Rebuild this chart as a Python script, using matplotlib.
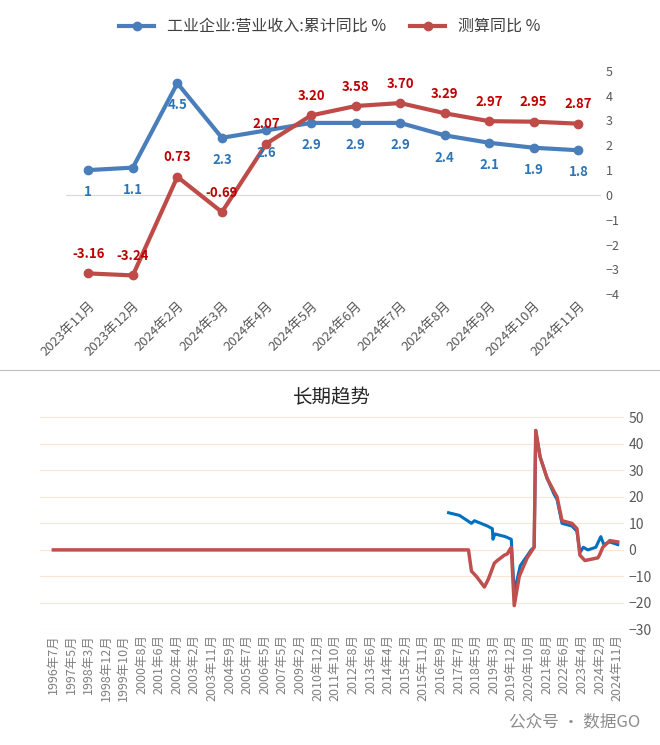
import matplotlib
matplotlib.use("Agg")
import matplotlib.pyplot as plt
from matplotlib.lines import Line2D

plt.rcParams['font.family'] = ['Noto Sans CJK SC', 'DejaVu Sans']

months = ["2023年11月","2023年12月","2024年2月","2024年3月","2024年4月","2024年5月",
          "2024年6月","2024年7月","2024年8月","2024年9月","2024年10月","2024年11月"]
rev_yoy = [1, 1.1, 4.5, 2.3, 2.6, 2.9, 2.9, 2.9, 2.4, 2.1, 1.9, 1.8]
calc_yoy = [-3.16, -3.24, 0.73, -0.69, 2.07, 3.20, 3.58, 3.70, 3.29, 2.97, 2.95, 2.87]
rev_lbl = ["1","1.1","4.5","2.3","2.6","2.9","2.9","2.9","2.4","2.1","1.9","1.8"]
calc_lbl = ["-3.16","-3.24","0.73","-0.69","2.07","3.20","3.58","3.70","3.29","2.97","2.95","2.87"]

# long-term series: (decimal year, value) breakpoints
red_t = [1996.54, 2017.4, 2017.55, 2017.8, 2018.2, 2018.4, 2018.7, 2018.85, 2019.2, 2019.35, 2019.55,
         2019.7, 2019.95, 2020.35, 2020.7, 2020.78, 2021.0, 2021.35, 2021.7, 2021.85, 2022.1, 2022.6,
         2022.85, 2023.0, 2023.25, 2023.9, 2023.98, 2024.15, 2024.5, 2024.9]
red_v = [0, 0, -8, -10, -14, -11, -5, -4, -2, -1.5, 1, -21, -10, -3, 1, 45, 35, 27, 22, 20, 11, 10,
         8, -2, -4, -3, -2, 1, 3.5, 3]
blue_t = [2016.4, 2016.95, 2017.55, 2017.7, 2018.35, 2018.6, 2018.63, 2018.73, 2019.25, 2019.55,
          2019.7, 2020.0, 2020.55, 2020.7, 2020.78, 2021.0, 2021.35, 2021.7, 2021.85, 2022.1, 2022.6,
          2022.85, 2023.0, 2023.17, 2023.4, 2023.8, 2024.05, 2024.2, 2024.5, 2024.9]
blue_v = [14, 13, 10, 11, 9, 8, 4, 6, 5, 4, -16, -6, 0, 1, 45, 35, 27, 21, 19, 10, 9,
          7, -1, 1, 0, 1, 5, 2, 3, 2]
lt_labels = ["1996年7月","1997年5月","1998年3月","1998年12月","1999年10月","2000年8月","2001年6月",
             "2002年4月","2003年2月","2003年11月","2004年9月","2005年7月","2006年5月","2007年5月",
             "2009年2月","2010年12月","2011年10月","2012年8月","2013年6月","2014年4月","2015年2月",
             "2015年11月","2016年9月","2017年7月","2018年5月","2019年3月","2019年12月","2020年10月",
             "2021年8月","2022年6月","2023年4月","2024年2月","2024年11月"]

fig = plt.figure(figsize=(6.6, 7.45), dpi=100)
blue1, red1 = "#4A7EBB", "#BE4B48"

# ---- top panel ----
ax = fig.add_axes([0.10, 0.605, 0.81, 0.30])
x = list(range(len(months)))
ax.plot(x, rev_yoy, color=blue1, lw=3, marker='o', ms=6)
ax.plot(x, calc_yoy, color=red1, lw=3, marker='o', ms=6)
for i in x:
    ax.annotate(rev_lbl[i], (i, rev_yoy[i]), xytext=(0, -16), textcoords='offset points',
                ha='center', va='center', color="#2E75B6", fontsize=9.5, fontweight='bold')
    ax.annotate(calc_lbl[i], (i, calc_yoy[i]), xytext=(0, 14), textcoords='offset points',
                ha='center', va='center', color="#C00000", fontsize=9.5, fontweight='bold')
ax.set_ylim(-4, 5)
ax.set_xlim(-0.5, len(months) - 0.5)
ax.yaxis.tick_right()
ax.set_yticks(range(-4, 6))
ax.set_xticks(x)
ax.set_xticklabels(months, rotation=45, ha='right', rotation_mode='anchor', fontsize=9.5, color="#595959")
ax.tick_params(axis='y', length=0, labelsize=9, colors="#595959")
ax.tick_params(axis='x', length=0)
for s in ax.spines.values():
    s.set_visible(False)
ax.axhline(0, color="#D9D9D9", lw=0.8, zorder=0)
handles = [Line2D([], [], color=blue1, lw=3, marker='o', ms=6),
           Line2D([], [], color=red1, lw=3, marker='o', ms=6)]
fig.legend(handles, ["工业企业:营业收入:累计同比 %", "测算同比 %"], loc='upper center',
           bbox_to_anchor=(0.5, 0.995), ncol=2, frameon=False, fontsize=11.5,
           labelcolor="#404040", handlelength=2.2, columnspacing=1.5)

# separator
fig.add_artist(Line2D([0, 1], [0.503, 0.503], color="#BFBFBF", lw=0.8, transform=fig.transFigure))

# ---- bottom panel ----
ax2 = fig.add_axes([0.06, 0.155, 0.885, 0.285])
ax2.plot(blue_t, blue_v, color="#0070C0", lw=2.2)
ax2.plot(red_t, red_v, color="#C0504D", lw=2.5)
ax2.set_ylim(-30, 50)
ax2.set_xlim(1995.85, 2025.2)
ax2.yaxis.tick_right()
ax2.set_yticks(range(-30, 51, 10))
ax2.grid(axis='y', color="#FBE5D6", lw=0.8)
ax2.set_axisbelow(True)
tpos = [1996.54 + i * (2024.87 - 1996.54) / (len(lt_labels) - 1) for i in range(len(lt_labels))]
ax2.set_xticks(tpos)
ax2.set_xticklabels(lt_labels, rotation=90, fontsize=9, color="#808080", va='top')
ax2.tick_params(axis='y', length=0, labelsize=10, colors="#595959")
ax2.tick_params(axis='x', length=0)
for s in ax2.spines.values():
    s.set_visible(False)
ax2.set_title("长期趋势", fontsize=14, color="#262626", pad=10)

fig.text(0.97, 0.02, "公众号 · 数据GO", ha='right', va='bottom', fontsize=12, color="#8C8C8C")
fig.savefig("out.png", dpi=100, facecolor="white")
